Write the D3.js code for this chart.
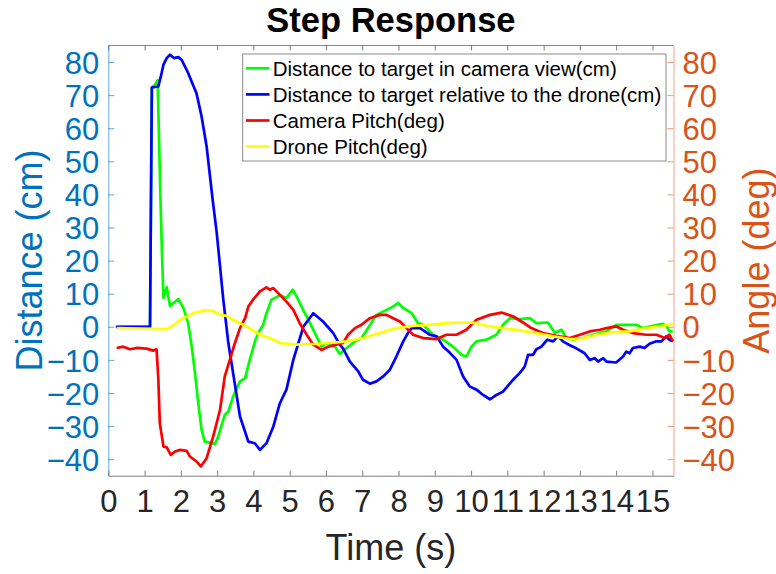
<!DOCTYPE html>
<html><head><meta charset="utf-8">
<script src="https://cdn.jsdelivr.net/npm/d3@7"></script>
<style>body{margin:0;background:#fff}svg{display:block}text{font-family:"Liberation Sans",Arial,sans-serif}</style>
</head><body><div id="chart"></div>
<script>
// ---- data ----
const xTicks = [0,1,2,3,4,5,6,7,8,9,10,11,12,13,14,15];
const yTicks = [-40,-30,-20,-10,0,10,20,30,40,50,60,70,80];
const seriesNames = ["Distance to target in camera view(cm)","Distance to target relative to the drone(cm)","Camera Pitch(deg)","Drone Pitch(deg)"];
const seriesColors = ["#00ff00","#0000ff","#ff0000","#ffff00"];

const camDistT = [0.21,1.15,1.2,1.29,1.36,1.40,1.44,1.48,1.52,1.61,1.70,1.93,2.07,2.20,2.30,2.39,2.48,2.57,2.66,2.94,3.03,3.21,3.31,3.44,3.63,3.77,3.90,4.04,4.13,4.27,4.36,4.50,4.73,4.91,5.08,5.19,5.37,5.56,5.74,5.88,6.02,6.25,6.38,6.57,6.80,6.98,7.16,7.39,7.67,7.85,7.99,8.13,8.36,8.54,8.68,8.95,9.23,9.50,9.74,9.87,10.01,10.15,10.42,10.70,10.88,11.07,11.34,11.62,11.80,12.12,12.31,12.49,12.63,12.81,13.09,13.36,13.73,14.01,14.28,14.56,14.74,15.01,15.29,15.38,15.47,15.56];
const camDistV = [0,0,72.3,73.2,74.5,56,38,22,8.7,12,6.3,8.4,5.7,1.1,-6,-14,-23.1,-31.1,-34.7,-35.4,-33.2,-26.6,-25.6,-21.1,-16.5,-15.5,-10,-4.5,-1.9,0.6,4.1,8.2,9.5,8.7,11.2,9.2,5.1,1.1,-2.9,-6,-4.9,-6,-8.2,-6.4,-4.4,-3.4,-0.4,3.6,5.1,6.1,7.2,5.7,4.1,1.1,0.6,-2.4,-3.9,-6,-8.5,-9,-6,-4.4,-3.9,-2.4,0.6,2.6,2.3,2.6,1.1,1.3,-1.9,-0.9,-3.4,-3.9,-3.4,-2.4,-1.4,0.6,0.6,0.6,-0.4,0.3,0.9,0.3,-1.4,-1.4];

const droneDistT = [0.21,1.15,1.2,1.38,1.47,1.52,1.61,1.70,1.81,1.93,2.02,2.20,2.43,2.57,2.71,2.87,2.99,3.17,3.31,3.44,3.63,3.86,4.04,4.18,4.36,4.55,4.73,4.91,5.10,5.38,5.65,5.92,6.20,6.38,6.47,6.66,6.89,7.02,7.21,7.39,7.58,7.76,7.94,8.13,8.26,8.36,8.59,8.86,9.05,9.23,9.41,9.60,9.78,9.96,10.15,10.33,10.52,10.70,10.88,11.16,11.34,11.48,11.57,11.71,11.80,11.94,12.10,12.26,12.40,12.53,12.71,12.90,13.13,13.27,13.41,13.50,13.64,13.73,14.0,14.19,14.28,14.37,14.46,14.65,14.78,14.92,15.11,15.25,15.38,15.47,15.56];
const droneDistV = [0,0,72.3,72.6,76.7,79.2,81.2,82.2,81.2,81.5,80.7,76.7,70.6,63.6,54.5,39,28.3,8.2,-5,-14,-27.1,-34.7,-35.2,-37.2,-35.2,-30.1,-23.1,-19,-10,0.1,4.1,1.6,-1.9,-5.4,-6.5,-10.5,-13.5,-16,-17.2,-16.5,-15,-13,-9,-4.4,-1.9,-0.4,-0.4,-2.4,-2.9,-6,-7.8,-10,-15,-18,-19,-20.6,-21.9,-20.6,-19.6,-16,-14,-12,-8.5,-8.5,-6.8,-6,-3.9,-4.4,-2.9,-4.4,-5.5,-6.5,-8,-10,-9.5,-10.5,-9.5,-10.5,-10.8,-9,-7.5,-8,-6.4,-6,-6.4,-5.1,-4.4,-4.4,-2.9,-3.9,-4.4];

const camPitchT = [0.23,0.41,0.60,0.78,1.06,1.24,1.33,1.38,1.42,1.52,1.61,1.72,1.84,1.98,2.16,2.25,2.43,2.55,2.71,2.89,3.08,3.21,3.35,3.49,3.63,3.77,3.86,3.99,4.18,4.36,4.45,4.55,4.68,4.91,5.10,5.28,5.47,5.65,5.88,6.06,6.29,6.47,6.61,6.80,6.98,7.21,7.48,7.67,7.85,8.04,8.22,8.40,8.68,9.05,9.32,9.60,9.87,10.15,10.52,10.84,11.16,11.43,11.66,11.98,12.35,12.72,13.0,13.27,13.55,13.73,14.01,14.19,14.46,14.83,15.11,15.34,15.47,15.56];
const camPitchV = [-6.4,-6,-6.8,-6.4,-6.6,-7.2,-6.8,-16,-29.1,-36.2,-36.4,-38.7,-37.7,-37.2,-37.5,-39.2,-40.7,-42.2,-39.7,-33.2,-25.1,-15,-10,-4.9,-0.4,2.6,6.1,8.2,10.7,11.9,11.2,11.7,10.2,7.6,5.1,1,-2.4,-5.4,-7,-6,-5.4,-4.9,-2.4,-0.4,0.6,2.6,3.6,3.6,2.6,1.6,-0.4,-2.4,-3.4,-3.7,-2.4,-2.4,-0.9,2.1,3.6,4.3,3.1,1.3,-0.4,-1.9,-2.7,-3.4,-2.4,-1.4,-0.9,-0.4,0.1,-0.9,-1.9,-2.4,-2.4,-3.4,-2.4,-4.4];

const dronePitchT = [0.23,1.61,1.75,1.98,2.34,2.62,2.89,3.08,3.26,3.44,3.81,4.18,4.45,4.73,5.19,5.65,6.11,6.57,7.02,7.48,7.94,8.40,8.86,9.32,9.78,10.1,10.42,10.88,11.34,11.80,12.26,12.72,13.0,13.46,13.91,14.37,14.83,15.20,15.56];
const dronePitchV = [-0.4,-0.7,0.1,2.1,4.1,4.9,4.8,3.6,3.3,2.1,0.1,-2.4,-3.4,-4.9,-5.4,-5.2,-4.9,-4.4,-3.4,-1.9,-0.4,0.3,0.6,1.1,1.3,1.2,0.3,-0.4,-1.1,-1.9,-2.9,-3.7,-3.7,-2.4,-1.7,-1.4,-0.4,0.1,0.9];

// ---- layout ----
const W = 776, H = 574;
const L = 108.3, R = 673.5, T = 45.5, B = 475.7;
const svg = d3.select("#chart").append("svg").attr("width", W).attr("height", H);
const x = d3.scaleLinear().domain([0, 15.58]).range([L, R]);
const yL = d3.scaleLinear().domain([-45, 85]).range([B, T]);
const yR = d3.scaleLinear().domain([-45, 85]).range([B, T]);
const blueAx = "#0072BD", orangeAx = "#D95319", grayAx = "#262626";

// box top
svg.append("line").attr("x1", L).attr("x2", R).attr("y1", T).attr("y2", T).attr("stroke", grayAx).attr("stroke-opacity", 0.55);
// x ticks (bottom, inward)
const xb = svg.append("g").attr("transform", `translate(0,${B})`)
  .call(d3.axisBottom(x).tickValues(xTicks).tickSizeInner(-5).tickSizeOuter(0).tickPadding(14).tickFormat(d3.format("d")));
xb.select(".domain").attr("stroke", grayAx).attr("stroke-opacity", 0.6);
xb.selectAll(".tick line").attr("stroke", grayAx).attr("stroke-opacity", 0.6);
xb.selectAll(".tick text").attr("font-size", 31).attr("fill", "#262626").attr("font-family", "Liberation Sans");
// x ticks top
const xt = svg.append("g").attr("transform", `translate(0,${T})`)
  .call(d3.axisTop(x).tickValues(xTicks).tickSizeInner(-5).tickSizeOuter(0).tickFormat(""));
xt.select(".domain").remove();
xt.selectAll(".tick line").attr("stroke", grayAx).attr("stroke-opacity", 0.6);

// left axis
const yl = svg.append("g").attr("transform", `translate(${L},0)`)
  .call(d3.axisLeft(yL).tickValues(yTicks).tickSizeInner(-6).tickSizeOuter(0).tickPadding(9));
yl.select(".domain").attr("stroke", blueAx).attr("stroke-opacity", 0.6);
yl.selectAll(".tick line").attr("stroke", blueAx).attr("stroke-opacity", 0.6);
yl.selectAll(".tick text").attr("font-size", 31).attr("fill", blueAx).attr("font-family", "Liberation Sans").attr("dy", "0.36em");
// right axis
const yr = svg.append("g").attr("transform", `translate(${R},0)`)
  .call(d3.axisRight(yR).tickValues(yTicks).tickSizeInner(-6).tickSizeOuter(0).tickPadding(9));
yr.select(".domain").attr("stroke", orangeAx).attr("stroke-opacity", 0.5);
yr.selectAll(".tick line").attr("stroke", orangeAx).attr("stroke-opacity", 0.6);
yr.selectAll(".tick text").attr("font-size", 31).attr("fill", orangeAx).attr("font-family", "Liberation Sans").attr("dy", "0.36em");

// series
const series = [
  {t: camDistT, v: camDistV, y: yL},
  {t: droneDistT, v: droneDistV, y: yL},
  {t: camPitchT, v: camPitchV, y: yR},
  {t: dronePitchT, v: dronePitchV, y: yR}
];
const plot = svg.append("g");
series.forEach((s, i) => {
  const pts = s.t.map((t, k) => [t, s.v[k]]);
  const line = d3.line().x(d => x(d[0])).y(d => s.y(d[1]));
  plot.append("path").attr("d", line(pts)).attr("fill", "none")
    .attr("stroke", seriesColors[i]).attr("stroke-width", 2.7).attr("stroke-linejoin", "round");
});

// legend
const lg = svg.append("g");
lg.append("rect").attr("x", 242.7).attr("y", 54).attr("width", 423.3).attr("height", 107)
  .attr("fill", "#fff").attr("stroke", "#8a8a8a").attr("stroke-width", 1);
seriesNames.forEach((n, i) => {
  const cy = 68.3 + i * 26.1;
  lg.append("line").attr("x1", 246).attr("x2", 269.5).attr("y1", cy).attr("y2", cy)
    .attr("stroke", seriesColors[i]).attr("stroke-width", 2.7);
  lg.append("text").attr("x", 272.7).attr("y", cy).attr("dy", "0.36em").attr("font-size", 20.5)
    .attr("fill", "#000").text(n);
});

// titles
svg.append("text").attr("x", (L + R) / 2).attr("y", 32).attr("text-anchor", "middle")
  .attr("font-size", 34.5).attr("font-weight", "bold").attr("fill", "#000").text("Step Response");
svg.append("text").attr("x", (L + R) / 2).attr("y", 560).attr("text-anchor", "middle")
  .attr("font-size", 36).attr("fill", "#262626").text("Time (s)");
svg.append("text").attr("transform", `translate(42,${(T + B) / 2}) rotate(-90)`).attr("text-anchor", "middle")
  .attr("font-size", 36).attr("fill", blueAx).text("Distance (cm)");
svg.append("text").attr("transform", `translate(769,${(T + B) / 2}) rotate(-90)`).attr("text-anchor", "middle")
  .attr("font-size", 36).attr("fill", orangeAx).text("Angle (deg)");
</script></body></html>
